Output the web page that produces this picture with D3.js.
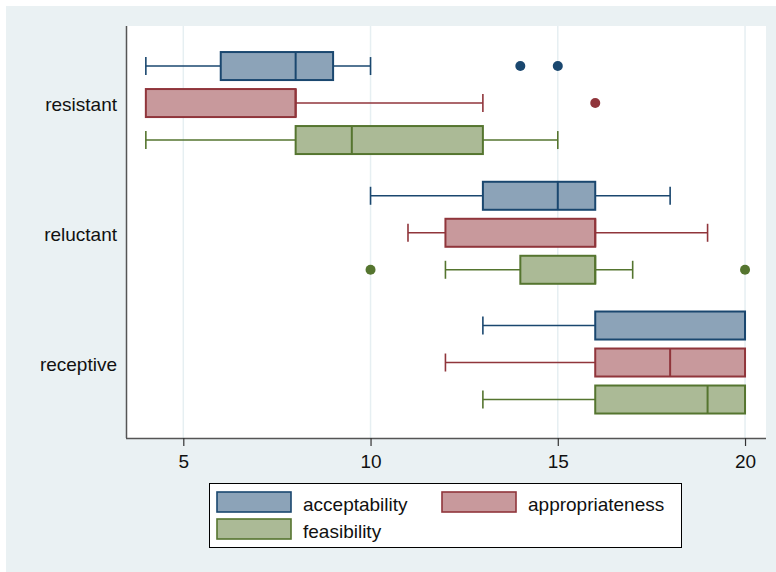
<!DOCTYPE html>
<html><head><meta charset="utf-8">
<script src="https://cdn.jsdelivr.net/npm/d3@7"></script>
<style>html,body{margin:0;padding:0;background:#fff;}svg{display:block;}</style>
</head><body>
<script>
// ---- data ----
const categories = ["resistant", "reluctant", "receptive"];
const seriesNames = ["acceptability", "appropriateness", "feasibility"];
// per series, per category: [lowWhisker, q1, median, q3, highWhisker]
const acceptability = [[4, 6, 8, 9, 10], [10, 13, 15, 16, 18], [13, 16, 20, 20, 20]];
const appropriateness = [[4, 4, 8, 8, 13], [11, 12, 16, 16, 19], [12, 16, 18, 20, 20]];
const feasibility = [[4, 8, 9.5, 13, 15], [12, 14, 16, 16, 17], [13, 16, 19, 20, 20]];
const outliersAcceptability = [[14, 15], [], []];
const outliersAppropriateness = [[16], [], []];
const outliersFeasibility = [[], [10, 20], []];
const xTicks = [5, 10, 15, 20];

const seriesData = [acceptability, appropriateness, feasibility];
const seriesOutliers = [outliersAcceptability, outliersAppropriateness, outliersFeasibility];
const strokeColors = ["#1a476f", "#90353b", "#55752f"];
const fillColors = ["#8ca3b8", "#c8999c", "#abba96"];

const W = 776, H = 572;
const svg = d3.select("body").append("svg").attr("width", W).attr("height", H);
svg.append("rect").attr("x", 0).attr("y", 0).attr("width", W).attr("height", H).attr("fill", "#ffffff");
svg.append("rect").attr("x", 6).attr("y", 6).attr("width", W - 6).attr("height", H - 6).attr("fill", "#eaf1f3");

const plot = {left: 126, right: 766, top: 26, bottom: 438};
svg.append("rect").attr("x", plot.left).attr("y", plot.top)
  .attr("width", plot.right - plot.left).attr("height", plot.bottom - plot.top).attr("fill", "#ffffff");

const x = d3.scaleLinear().domain([3.47, 20.56]).range([plot.left, plot.right]);
const yGroup = d3.scaleBand().domain(categories).range([38.2, 427.4]).paddingInner(0).paddingOuter(0);
const ySeries = d3.scaleBand().domain(seriesNames).range([9.35, 120.35]).paddingInner(0.243).paddingOuter(0.1215);

// grid lines
svg.append("g").selectAll("line").data(xTicks).join("line")
  .attr("x1", d => x(d)).attr("x2", d => x(d))
  .attr("y1", plot.top).attr("y2", plot.bottom)
  .attr("stroke", "#e6eff2").attr("stroke-width", 1.5);

// boxes
const capH = 18;
seriesNames.forEach((s, si) => {
  const g = svg.append("g");
  categories.forEach((c, ci) => {
    const [lo, q1, med, q3, hi] = seriesData[si][ci];
    const y0 = yGroup(c) + ySeries(s);
    const bh = ySeries.bandwidth();
    const cy = y0 + bh / 2;
    const sc = strokeColors[si];
    if (lo < q1) {
      g.append("line").attr("x1", x(lo)).attr("x2", x(q1)).attr("y1", cy).attr("y2", cy).attr("stroke", sc).attr("stroke-width", 1.6);
      g.append("line").attr("x1", x(lo)).attr("x2", x(lo)).attr("y1", cy - capH / 2).attr("y2", cy + capH / 2).attr("stroke", sc).attr("stroke-width", 1.6);
    }
    if (hi > q3) {
      g.append("line").attr("x1", x(q3)).attr("x2", x(hi)).attr("y1", cy).attr("y2", cy).attr("stroke", sc).attr("stroke-width", 1.6);
      g.append("line").attr("x1", x(hi)).attr("x2", x(hi)).attr("y1", cy - capH / 2).attr("y2", cy + capH / 2).attr("stroke", sc).attr("stroke-width", 1.6);
    }
    g.append("rect").attr("x", x(q1)).attr("y", y0).attr("width", x(q3) - x(q1)).attr("height", bh)
      .attr("fill", fillColors[si]).attr("stroke", sc).attr("stroke-width", 2);
    g.append("line").attr("x1", x(med)).attr("x2", x(med)).attr("y1", y0).attr("y2", y0 + bh)
      .attr("stroke", sc).attr("stroke-width", 2);
    seriesOutliers[si][ci].forEach(v => {
      g.append("circle").attr("cx", x(v)).attr("cy", cy).attr("r", 5).attr("fill", sc);
    });
  });
});

// axes
const fontFam = "Arial, 'Liberation Sans', Helvetica, sans-serif";
const xAxis = svg.append("g").attr("transform", `translate(0,${plot.bottom})`)
  .call(d3.axisBottom(x).tickValues(xTicks).tickSize(8).tickPadding(9).tickFormat(d3.format("d")));
xAxis.select(".domain").attr("d", `M${plot.left},0.5H${plot.right}`).attr("stroke", "#555").attr("stroke-width", 1.5);
xAxis.selectAll(".tick line").attr("stroke", "#333").attr("stroke-width", 1.2);
xAxis.selectAll(".tick text").attr("font-family", fontFam).attr("font-size", 19).attr("fill", "#111");

const yAxis = svg.append("g").attr("transform", `translate(${plot.left},0)`)
  .call(d3.axisLeft(yGroup).tickSize(0).tickPadding(9));
yAxis.select(".domain").attr("d", `M0.5,${plot.top}V${plot.bottom}`).attr("stroke", "#555").attr("stroke-width", 1.5);
yAxis.selectAll(".tick text").attr("font-family", fontFam).attr("font-size", 19).attr("fill", "#111")
  .attr("dy", "0.44em");

// legend
const leg = svg.append("g");
leg.append("rect").attr("x", 209.5).attr("y", 483.5).attr("width", 472).attr("height", 64)
  .attr("fill", "#fff").attr("stroke", "#000").attr("stroke-width", 1);
const legPos = [[217, 492], [442, 492], [217, 519]];
seriesNames.forEach((s, i) => {
  const [lx, ly] = legPos[i];
  leg.append("rect").attr("x", lx).attr("y", ly).attr("width", 74).attr("height", 20)
    .attr("fill", fillColors[i]).attr("stroke", strokeColors[i]).attr("stroke-width", 1.6);
  leg.append("text").attr("x", lx + 86).attr("y", ly + 19).text(s)
    .attr("font-family", fontFam).attr("font-size", 19).attr("fill", "#111");
});
</script>
</body></html>
